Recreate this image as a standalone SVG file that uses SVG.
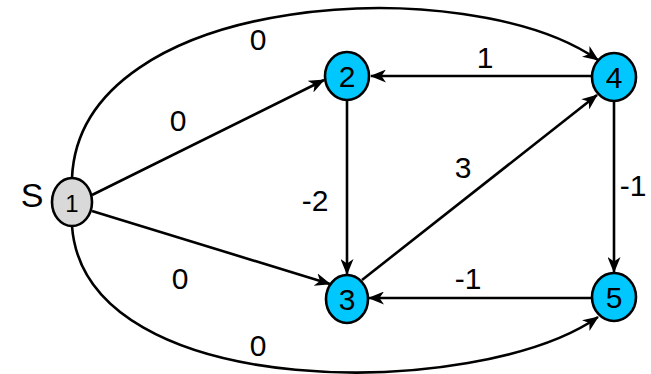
<svg xmlns="http://www.w3.org/2000/svg" width="651" height="374" viewBox="0 0 651 374">
<defs>
<style>
.e{fill:none;stroke:#000;stroke-width:2.6;marker-end:url(#ah)}
.n{stroke:#000;stroke-width:2.6}
.b{fill:#00c8ff}
.g{fill:#d9d9d9}
text{font-family:"Liberation Sans",Arial,sans-serif;fill:#000}
.lbl{font-size:30px;text-anchor:middle}
.nl{font-size:30px;text-anchor:middle}
</style>
<marker id="ah" viewBox="0 0 16 13" refX="15" refY="6.5" markerWidth="16" markerHeight="13" markerUnits="userSpaceOnUse" orient="auto">
<path d="M0,0 L16,6.5 L0,13 L4.5,6.5 z" fill="#000"/>
</marker>
</defs>
<rect width="651" height="374" fill="#fff"/>
<g id="connectors">
<path class="e" d="M72,178 C80,-10 470,-30 598,60"/>
<path class="e" d="M72,226 C85,405 480,400 598,317"/>
<path class="e" d="M92,195 L324,80"/>
<path class="e" d="M92,211 L330,284"/>
<path class="e" d="M592,76 L371,76"/>
<path class="e" d="M347,100 L347,274"/>
<path class="e" d="M362,280 L597,95"/>
<path class="e" d="M614,101 L614,272"/>
<path class="e" d="M592,298 L369,298"/>
</g>
<g id="labels">
<text class="lbl" x="258" y="50">0</text>
<text class="lbl" x="178" y="131">0</text>
<text class="lbl" x="485" y="68">1</text>
<text class="lbl" x="315" y="211">-2</text>
<text class="lbl" x="463" y="178">3</text>
<text class="lbl" x="633" y="196">-1</text>
<text class="lbl" x="180" y="289">0</text>
<text class="lbl" x="468" y="289">-1</text>
<text class="lbl" x="258" y="356">0</text>
<text x="32" y="207" font-size="34" text-anchor="middle">S</text>
</g>
<g id="node1"><ellipse class="n g" cx="72" cy="202" rx="20" ry="24"/><text x="72" y="212" font-size="24" text-anchor="middle">1</text></g>
<g id="node2"><ellipse class="n b" cx="347" cy="76" rx="22" ry="24"/><text class="nl" x="347" y="87">2</text></g>
<g id="node3"><ellipse class="n b" cx="347" cy="299" rx="21" ry="24"/><text class="nl" x="347" y="310">3</text></g>
<g id="node4"><ellipse class="n b" cx="614" cy="77" rx="22" ry="24"/><text class="nl" x="614" y="88">4</text></g>
<g id="node5"><ellipse class="n b" cx="614" cy="297" rx="22" ry="24"/><text class="nl" x="614" y="308">5</text></g>
</svg>
